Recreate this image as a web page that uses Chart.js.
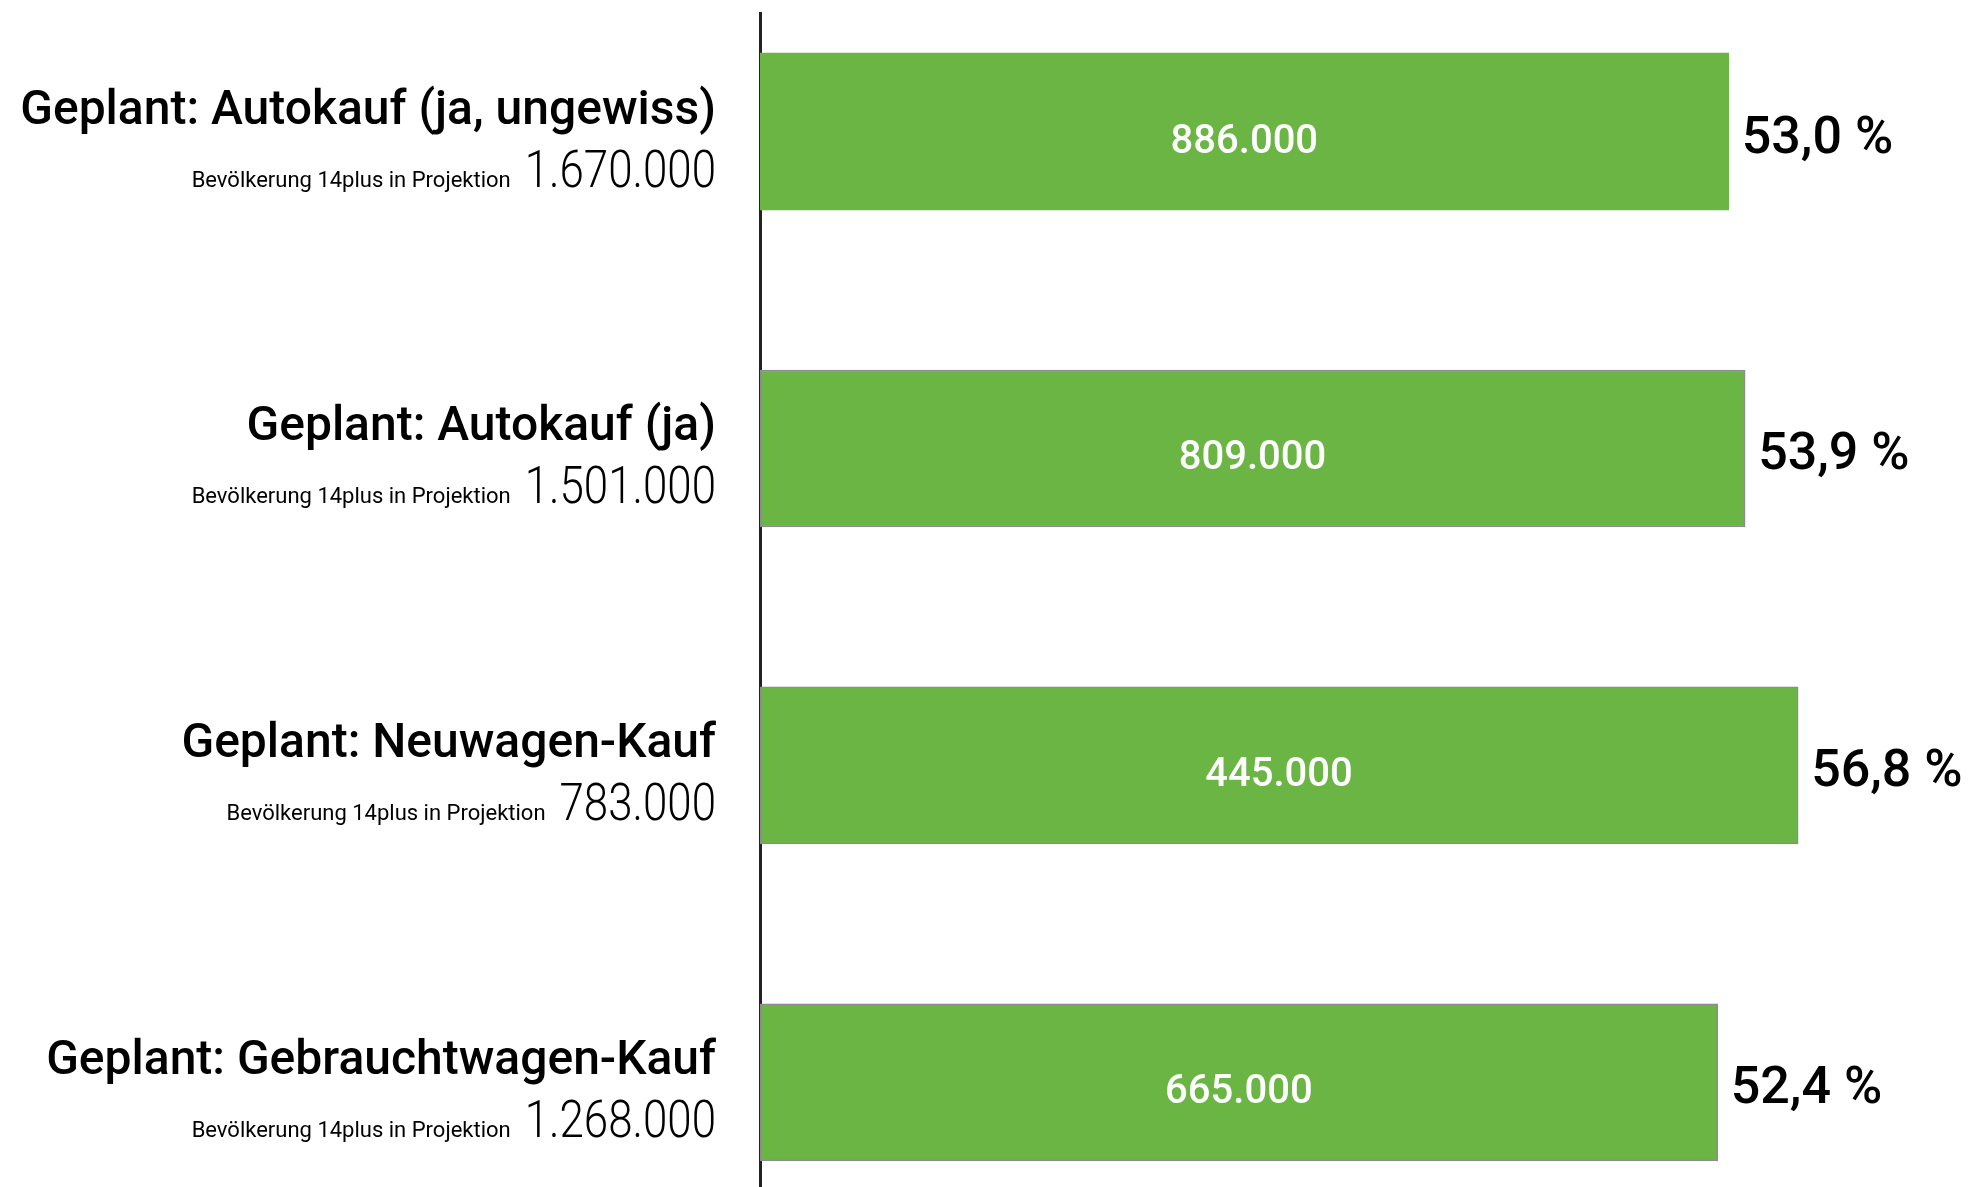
<!DOCTYPE html>
<html>
<head>
<meta charset="utf-8">
<script src="https://cdn.jsdelivr.net/npm/chart.js@4"></script>
<style>
  html, body { margin: 0; padding: 0; background: #fff; }
  #wrap { width: 1973px; height: 1187px; position: relative; }
</style>
</head>
<body>
<div id="wrap"><canvas id="chart"></canvas></div>
<script>
// categories + values
const categories = [
  'Geplant: Autokauf (ja, ungewiss)',
  'Geplant: Autokauf (ja)',
  'Geplant: Neuwagen-Kauf',
  'Geplant: Gebrauchtwagen-Kauf'
];
const percentShare = [53.0, 53.9, 56.8, 52.4];        // bar length (%)
const plannedBuyers = [886000, 809000, 445000, 665000]; // label inside bar
const population = [1670000, 1501000, 783000, 1268000]; // "Bevölkerung 14plus in Projektion"
const subLabel = 'Bevölkerung 14plus in Projektion';

const GREEN = '#6bb544';
const FONT = 'Roboto, "Open Sans", sans-serif';

function fmtThousands(n) {
  return String(n).replace(/\B(?=(\d{3})+(?!\d))/g, '.');
}
function fmtPct(v) {
  return v.toFixed(1).replace('.', ',') + ' %';
}

// draws the left side labels, the numbers inside the bars and the % after the bars
const labelPlugin = {
  id: 'labelPlugin',
  afterDatasetsDraw(chart) {
    const ctx = chart.ctx;
    const meta = chart.getDatasetMeta(0);
    const yScale = chart.scales.y;
    const rightEdge = chart.chartArea.left - 44;

    ctx.save();
    categories.forEach((cat, i) => {
      const c = yScale.getPixelForValue(i);
      const bar = meta.data[i];

      // title
      ctx.fillStyle = '#000';
      ctx.textAlign = 'right';
      ctx.textBaseline = 'alphabetic';
      ctx.font = '500 48px ' + FONT;
      ctx.fillText(cat, rightEdge, c - 8);

      // big population number, condensed a bit
      const numTxt = fmtThousands(population[i]);
      ctx.font = '300 51px ' + FONT;
      const sx = 0.86;
      const numW = ctx.measureText(numTxt).width * sx;
      ctx.save();
      ctx.translate(rightEdge, c + 55);
      ctx.scale(sx, 1);
      ctx.fillText(numTxt, 0, 0);
      ctx.restore();

      // small text before it
      ctx.font = '400 22px ' + FONT;
      ctx.fillText(subLabel, rightEdge - numW - 14, c + 55);

      // value inside the bar
      ctx.fillStyle = '#fff';
      ctx.textAlign = 'center';
      ctx.font = '500 40px ' + FONT;
      ctx.fillText(fmtThousands(plannedBuyers[i]), (bar.base + bar.x) / 2, c + 21);

      // percent after the bar
      ctx.fillStyle = '#000';
      ctx.textAlign = 'left';
      ctx.font = '500 52px ' + FONT;
      ctx.fillText(fmtPct(percentShare[i]), bar.x + 13, c + 21);
    });
    ctx.restore();
  }
};

const ctx = document.getElementById('chart').getContext('2d');

const chart = new Chart(ctx, {
  type: 'bar',
  data: {
    datasets: [{
      data: percentShare.map((v, i) => ({ x: v, y: i })),
      backgroundColor: GREEN,
      borderColor: c => c.dataIndex === 0 ? GREEN : '#8c8c8c',
      borderWidth: c => c.dataIndex === 0 ? 0 : 1.5,
      borderSkipped: false,
      barThickness: 157
    }]
  },
  options: {
    indexAxis: 'y',
    responsive: true,
    maintainAspectRatio: false,
    animation: false,
    layout: { padding: { left: 760, right: 25, top: 13, bottom: 0 } },
    plugins: {
      legend: { display: false },
      tooltip: { enabled: false }
    },
    scales: {
      x: {
        type: 'linear',
        display: false,
        min: 0,
        max: 65
      },
      y: {
        type: 'linear',
        reverse: true,
        offset: false,
        min: -0.374,
        max: 3.33,
        ticks: { display: false },
        grid: { display: false, drawTicks: false, offset: false },
        border: { display: true, color: '#222', width: 3 },
        afterFit: s => { s.width = 0; }
      }
    }
  },
  plugins: [labelPlugin]
});
</script>
</body>
</html>
